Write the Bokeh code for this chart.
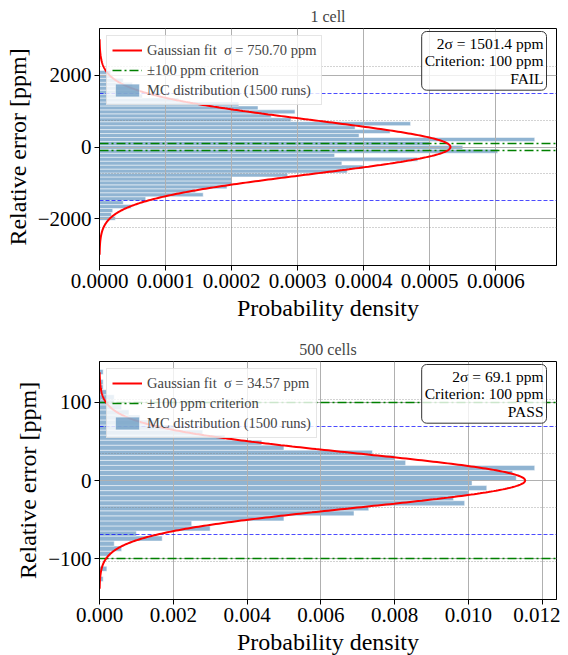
import numpy as np
from bokeh.plotting import figure
from bokeh.models import Range1d, FixedTicker, Legend, LegendItem, Label, NumeralTickFormatter
from bokeh.layouts import column
from bokeh.embed import file_html
from bokeh.resources import INLINE

FONT = "Liberation Serif"

n_runs = 1500
criterion = 100

# ---- Panel 1: 1 cell ----
title_1 = "1 cell"
sigma_1 = 750.70
mu_1 = 0.0
status_1 = "FAIL"
centers_1 = [-1990, -1880, -1770, -1660, -1550, -1440, -1330, -1220, -1110, -1000,
             -890, -780, -670, -560, -450, -340, -230, -120, -10, 100,
             210, 320, 430, 540, 650, 760, 870, 980, 1090, 1200,
             1310, 1420, 1530, 1640, 1750, 1860, 1970, 2080]
density_1 = [0.000024, 0.000018, 0.000020, 0.000048, 0.000036, 0.000070, 0.000157, 0.000145, 0.000193, 0.000200,
             0.000200, 0.000285, 0.000375, 0.000399, 0.000367, 0.000482, 0.000356, 0.000603, 0.000550, 0.000500,
             0.000659, 0.000393, 0.000440, 0.000387, 0.000471, 0.000290, 0.000260, 0.000296, 0.000240, 0.000211,
             0.000120, 0.000065, 0.000060, 0.000050, 0.000050, 0.000036, 0.000020, 0.000017]
xticks_1 = [0.0, 0.0001, 0.0002, 0.0003, 0.0004, 0.0005, 0.0006]
xfmt_1 = "0.0000"
yticks_1 = [-2000, 0, 2000]
ylabels_1 = ["\u22122000", "0", "2000"]

# ---- Panel 2: 500 cells ----
title_2 = "500 cells"
sigma_2 = 34.57
mu_2 = 0.0
status_2 = "PASS"
centers_2 = [-125.8, -119.35, -112.9, -106.45, -100.0, -93.55, -87.1, -80.65, -74.2, -67.75,
             -61.3, -54.85, -48.4, -41.95, -35.5, -29.05, -22.6, -16.15, -9.7, -3.25,
             3.2, 9.65, 16.1, 22.55, 29.0, 35.45, 41.9, 48.35, 54.8, 61.25,
             67.7, 74.15, 80.6, 87.05, 93.5, 99.95, 106.4, 112.85, 119.3, 125.75,
             132.2, 138.65]
density_2 = [0.0001, 0.0, 0.0002, 0.0, 0.0, 0.0003, 0.0006, 0.0004, 0.0017, 0.0010,
             0.0030, 0.0025, 0.0050, 0.0069, 0.0073, 0.0099, 0.0096, 0.0100, 0.0105, 0.0101,
             0.0113, 0.0112, 0.0118, 0.0083, 0.0080, 0.0074, 0.0050, 0.0044, 0.0034, 0.0028,
             0.0020, 0.0015, 0.0011, 0.0008, 0.0006, 0.0004, 0.0004, 0.0002, 0.0001, 0.0001,
             0.0, 0.0001]
xticks_2 = [0.0, 0.002, 0.004, 0.006, 0.008, 0.010, 0.012]
xfmt_2 = "0.000"
yticks_2 = [-100, 0, 100]
ylabels_2 = ["\u2212100", "0", "100"]


def make_panel(title, sigma, mu, status, centers, density, xticks, xfmt, yticks, ylabels,
               frame_h, border_top, border_bottom):
    bw = centers[1] - centers[0]
    y_curve = np.linspace(mu - 4 * sigma, mu + 4 * sigma, 500)
    x_curve = np.exp(-0.5 * ((y_curve - mu) / sigma) ** 2) / (sigma * np.sqrt(2 * np.pi))
    xmax = max(max(density), float(x_curve.max())) * 1.05
    ylim = 4 * sigma * 1.1

    p = figure(frame_width=457, frame_height=frame_h, output_backend="svg", toolbar_location=None,
               x_range=Range1d(0, xmax), y_range=Range1d(mu - ylim, mu + ylim),
               min_border_left=99, min_border_right=4,
               min_border_top=border_top, min_border_bottom=border_bottom)
    p.title.text = title
    p.title.align = "center"
    p.title.text_font = FONT
    p.title.text_font_size = "16px"
    p.title.text_font_style = "normal"
    p.title.standoff = 7
    p.xgrid.visible = False
    p.ygrid.visible = False
    p.outline_line_color = "black"
    p.outline_line_alpha = 1.0

    bars = p.hbar(y=centers, left=0, right=density, height=bw, fill_color="steelblue",
                  fill_alpha=0.6, line_color="white", line_width=0.5)
    p.vspan(x=xticks[1:], line_color="#b0b0b0", line_width=1)
    p.hspan(y=yticks, line_color="#b0b0b0", line_width=1)
    p.hspan(y=[mu - 3 * sigma, mu - sigma, mu + sigma, mu + 3 * sigma], line_color="gray",
            line_alpha=0.7, line_width=1, line_dash="1 2")
    p.hspan(y=[mu - 2 * sigma, mu + 2 * sigma], line_color="blue", line_alpha=0.7,
            line_width=1, line_dash="4 2")
    p.hspan(y=[-criterion, criterion], line_color="green", line_width=1.5, line_dash="9 3 2 3")
    crit_leg = p.line(x=[np.nan], y=[np.nan], line_color="green", line_width=1.5,
                      line_dash="9 3 2 3")
    fit = p.line(x=x_curve, y=y_curve, line_color="red", line_width=2)

    legend = Legend(items=[
        LegendItem(label=f"Gaussian fit  \u03c3 = {sigma:.2f} ppm", renderers=[fit]),
        LegendItem(label=f"\u00b1{criterion} ppm criterion", renderers=[crit_leg]),
        LegendItem(label=f"MC distribution ({n_runs} runs)", renderers=[bars]),
    ], location="top_left")
    legend.label_text_font = FONT
    legend.label_text_font_size = "14.5px"
    legend.label_height = 18
    legend.glyph_height = 16
    legend.glyph_width = 30
    legend.spacing = 2
    legend.padding = 5
    legend.margin = 7
    legend.border_line_color = "#cccccc"
    legend.background_fill_alpha = 0.8
    p.add_layout(legend)

    info = Label(x=xmax, y=mu + ylim, x_offset=-10, y_offset=-3,
                 text=f"2\u03c3 = {2 * sigma:.1f} ppm\nCriterion: {criterion} ppm\n{status}",
                 text_align="right", text_baseline="top", text_font=FONT,
                 text_font_size="15.5px", text_color="black", text_line_height=1.05,
                 border_line_color="#333333", border_line_width=1,
                 background_fill_color="white", background_fill_alpha=0.8,
                 padding=3, border_radius=5)
    p.add_layout(info)

    p.xaxis.ticker = FixedTicker(ticks=xticks)
    p.xaxis.formatter = NumeralTickFormatter(format=xfmt)
    p.yaxis.ticker = FixedTicker(ticks=yticks)
    p.yaxis.major_label_overrides = {t: lab for t, lab in zip(yticks, ylabels)}
    p.xaxis.axis_label = "Probability density"
    p.yaxis.axis_label = "Relative error [ppm]"
    for ax in (p.xaxis[0], p.yaxis[0]):
        ax.major_label_text_font = FONT
        ax.major_label_text_font_size = "21px"
        ax.major_label_text_color = "black"
        ax.axis_label_text_font = FONT
        ax.axis_label_text_font_size = "24px"
        ax.axis_label_text_font_style = "normal"
        ax.axis_label_text_color = "black"
        ax.major_tick_in = 0
        ax.major_tick_out = 5
        ax.minor_tick_line_color = None
        ax.axis_line_color = "black"
        ax.major_tick_line_color = "black"
        ax.major_label_standoff = 3
        ax.axis_label_standoff = 4
    return p


p1 = make_panel(title_1, sigma_1, mu_1, status_1, centers_1, density_1, xticks_1, xfmt_1,
                yticks_1, ylabels_1, 237, 28, 70)
p2 = make_panel(title_2, sigma_2, mu_2, status_2, centers_2, density_2, xticks_2, xfmt_2,
                yticks_2, ylabels_2, 238, 24, 50)

layout = column(p1, p2, spacing=0)
open("out.html", "w").write(file_html(layout, INLINE))
